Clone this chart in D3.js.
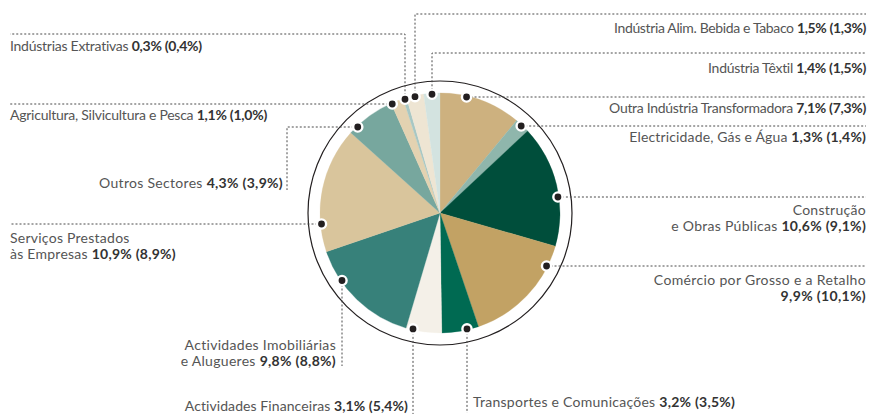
<!DOCTYPE html>
<html><head><meta charset="utf-8">
<script src="https://cdn.jsdelivr.net/npm/d3@7"></script>
<style>
html,body{margin:0;padding:0;background:#fff;}
svg text{font-family:Lato,"Open Sans",sans-serif;font-size:14px;fill:#555;}
svg text .v{font-weight:700;fill:#333;}
</style></head>
<body><svg id="c" width="871" height="415"></svg>
<script>
// Data (clockwise from 12 o'clock)
const sectors = ["Outra Indústria Transformadora","Electricidade, Gás e Água","Construção|e Obras Públicas","Comércio por Grosso e a Retalho|","Transportes e Comunicações","Actividades Financeiras","Actividades Imobiliárias|e Alugueres","Serviços Prestados|às Empresas","Outros Sectores","Agricultura, Silvicultura e Pesca","Indústrias Extrativas","Indústria Alim. Bebida e Tabaco","Indústria Têxtil"];
const shares = [7.1,1.3,10.6,9.9,3.2,3.1,9.8,10.9,4.3,1.1,0.3,1.5,1.4];
const previous = [7.3,1.4,9.1,10.1,3.5,5.4,8.8,8.9,3.9,1.0,0.4,1.3,1.5];
const colors = ["#cdb17f","#8fb6ac","#004e3b","#c2a264","#006a52","#f4f0e8","#37817a","#d9c59c","#77a79e","#e3d2b1","#a7c7c4","#eee5d3","#d3e3e0"];

// Label layout (leader geometry and typographic tracking only)
// type: h = horizontal from dot to x2; vh = up to y then horizontal to x2; hv = horizontal to x then down to y2; v = down to y2
const layout = [
  {type:"h", y:97, x2:866, anchor:"end", tx:866, ty:113, ls:-0.3},
  {type:"h", y:126, x2:866, anchor:"end", tx:866, ty:142, ls:0.15},
  {type:"h", y:197, x2:866, anchor:"end", tx:866, ty:215, ls:0.28},
  {type:"h", y:266, x2:866, anchor:"end", tx:866, ty:285, ls:0.35},
  {type:"v", x:467, y2:413, anchor:"start", tx:473, ty:407, ls:0.26},
  {type:"v", x:413, y2:414, anchor:"end", tx:408, ty:411, ls:0.08},
  {type:"v", x:342, y2:366, anchor:"end", tx:336, ty:350, ls:0.3},
  {type:"h", y:224, x2:10, anchor:"start", tx:10, ty:243, ls:0.25},
  {type:"hv", y:127, x:287, y2:190, anchor:"end", tx:283, ty:188, ls:0.3},
  {type:"h", y:104, x2:10, anchor:"start", tx:10, ty:120, ls:-0.25},
  {type:"vh", x:405, y:34, x2:10, anchor:"start", tx:10, ty:51, ls:-0.26},
  {type:"vh", x:415, y:14, x2:866, anchor:"end", tx:866, ty:33, ls:-0.36},
  {type:"vh", x:432, y:53, x2:866, anchor:"end", tx:866, ty:73, ls:-0.3}
];

const svg = d3.select("#c");
const cx = 440, cy = 213, r = 120, R = 132, rd = 119;
const g = svg.append("g").attr("transform", `translate(${cx},${cy})`);

const pie = d3.pie().sort(null).value(d => d)(shares);
const arc = d3.arc().innerRadius(0).outerRadius(r);
g.selectAll("path.s").data(pie).join("path").attr("class","s")
  .attr("d", arc).attr("fill", (d,i) => colors[i]).attr("stroke", (d,i)=>colors[i]).attr("stroke-width",0.3);

g.append("circle").attr("r", R).attr("fill","none").attr("stroke","#231f20").attr("stroke-width",1.2);

const fmt = v => d3.format(".1f")(v).replace(".", ",") + "%";

const lines = svg.append("g");
const dots = svg.append("g");
const texts = svg.append("g");

layout.forEach((L, i) => {
  let dx, dy, pts;
  if (L.type === "h" || L.type === "hv") {
    const off = Math.sqrt(rd*rd - (L.y-cy)*(L.y-cy));
    const left = (L.type === "hv") || L.x2 < cx;
    dx = left ? cx - off : cx + off; dy = L.y;
    pts = L.type === "h" ? [[dx,dy],[L.x2,dy]] : [[dx,dy],[L.x,dy],[L.x,L.y2]];
  } else {
    const off = Math.sqrt(rd*rd - (L.x-cx)*(L.x-cx));
    dx = L.x;
    if (L.type === "v") { dy = cy + off; pts = [[dx,dy],[dx,L.y2]]; }
    else { dy = cy - off; pts = [[dx,dy],[dx,L.y],[L.x2,L.y]]; }
  }
  lines.append("path").attr("d", d3.line()(pts)).attr("fill","none")
    .attr("stroke","#4a4a4a").attr("stroke-width",1).attr("stroke-dasharray","2,2");
  dots.append("circle").attr("cx",dx).attr("cy",dy).attr("r",4.6)
    .attr("fill","#231f20").attr("stroke","#fff").attr("stroke-width",2.4);

  const parts = sectors[i].split("|");
  const val = fmt(shares[i]) + " (" + fmt(previous[i]) + ")";
  const t = texts.append("text").attr("text-anchor", L.anchor).style("letter-spacing", L.ls + "px");
  if (parts.length === 1) {
    const ts = t.append("tspan").attr("x", L.tx).attr("y", L.ty).text(parts[0] + " ");
    ts.append("tspan").attr("class","v").text(val);
  } else {
    t.append("tspan").attr("x", L.tx).attr("y", L.ty).text(parts[0]);
    const ts = t.append("tspan").attr("x", L.tx).attr("y", L.ty + 16).text(parts[1] ? parts[1] + " " : "");
    ts.append("tspan").attr("class","v").text(val);
  }
});
</script></body></html>
